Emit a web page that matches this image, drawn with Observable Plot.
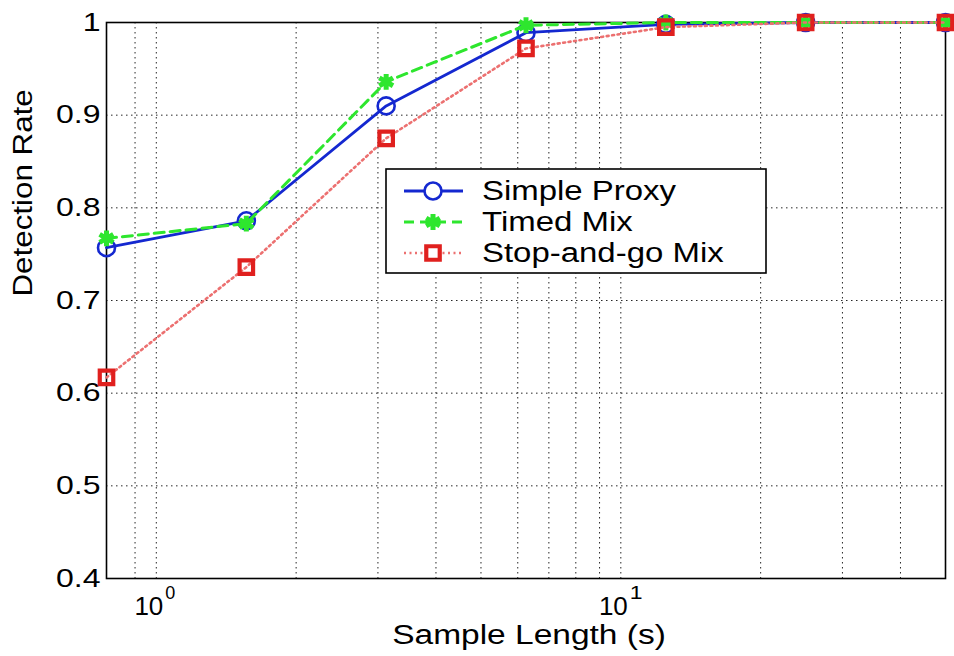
<!DOCTYPE html>
<html>
<head>
<meta charset="utf-8">
<script src="https://cdn.jsdelivr.net/npm/d3@7"></script>
<script src="https://cdn.jsdelivr.net/npm/@observablehq/plot@0.6"></script>
<style>
  html, body { margin: 0; padding: 0; background: #fff; }
  svg { display: block; }
</style>
</head>
<body>
<div id="chart"></div>
<script>
// ---- data ----
const sampleLengths = [0.78125, 1.5625, 3.125, 6.25, 12.5, 25, 50];
const simpleProxy   = [0.757, 0.786, 0.910, 0.989, 0.998, 1.000, 1.000];
const timedMix      = [0.767, 0.783, 0.936, 0.997, 1.000, 1.000, 1.000];
const stopAndGoMix  = [0.617, 0.736, 0.875, 0.972, 0.995, 1.000, 1.000];
const seriesNames   = ["Simple Proxy", "Timed Mix", "Stop-and-go Mix"];
const yTicks        = [0.4, 0.5, 0.6, 0.7, 0.8, 0.9, 1.0];
const xTicks        = [1, 10];
const xTickBase     = ["10", "10"];
const xTickExp      = ["0", "1"];
const xGrid         = [0.9, 1, 2, 3, 4, 5, 6, 7, 8, 9, 10, 20, 30, 40];
const yGrid         = [0.5, 0.6, 0.7, 0.8, 0.9];
const xLabel        = "Sample Length (s)";
const yLabel        = "Detection Rate";

const styles = [
  {color: "#1428d0", dash: null, width: 2.8, symbol: "circle", r: 8.5, sw: 2.6},
  {color: "#2ee62e", dash: "10,6", width: 3, symbol: "asterisk", r: 7.5, sw: 5},
  {color: "#e0201e", lineColor: "#ec7070", dash: "2,3.5", width: 2.6, symbol: "square", r: 7.6, sw: 4.2}
];
const values = [simpleProxy, timedMix, stopAndGoMix];
const table = seriesNames.map((name, i) => sampleLengths.map((x, j) => ({series: name, x, y: values[i][j]})));
const yFmt = d => d === 1 ? "1" : d.toFixed(1);

const marks = [
  Plot.ruleX(xGrid, {x: d => d, stroke: "#000", strokeWidth: 1, strokeDasharray: "1.5,3.5", strokeOpacity: 0.85}),
  Plot.ruleY(yGrid, {y: d => d, stroke: "#000", strokeWidth: 1, strokeDasharray: "1.5,3.5", strokeOpacity: 0.85}),
  Plot.frame({stroke: "#000", strokeWidth: 1.6}),
  Plot.axisY({ticks: yTicks, tickFormat: yFmt, tickSize: 0, tickPadding: 6, fontSize: 25, label: null}),
  Plot.text(xTicks, {x: d => d, text: (d, i) => xTickBase[i], frameAnchor: "bottom", lineAnchor: "bottom", dy: 36, dx: 7, textAnchor: "end", fontSize: 26, fill: "#000"}),
  Plot.text(xTicks, {x: d => d, text: (d, i) => xTickExp[i], frameAnchor: "bottom", lineAnchor: "bottom", dy: 20, dx: 9, textAnchor: "start", fontSize: 18, fill: "#000"}),
  Plot.text([xLabel], {text: d => d, frameAnchor: "bottom", lineAnchor: "bottom", dy: 65, dx: 3, fontSize: 27, fill: "#000"}),
  Plot.text([yLabel], {text: d => d, frameAnchor: "left", rotate: -90, dx: -83, dy: -4, fontSize: 27, fill: "#000"})
];
table.forEach((rows, i) => {
  const s = styles[i];
  marks.push(Plot.line(rows, {x: "x", y: "y", stroke: s.lineColor || s.color, strokeWidth: s.width, strokeDasharray: s.dash}));
  marks.push(Plot.dot(rows, {x: "x", y: "y", symbol: () => s.symbol, r: s.r, stroke: s.color, fill: "none", strokeWidth: s.sw}));
});

const svg = Plot.plot({
  width: 954, height: 656,
  marginLeft: 106, marginRight: 9, marginTop: 22, marginBottom: 78,
  style: {fontFamily: "'Liberation Sans', Arial, sans-serif", background: "#fff", color: "#000", overflow: "visible"},
  x: {type: "log", domain: [sampleLengths[0], sampleLengths[sampleLengths.length - 1]], axis: null},
  y: {domain: [0.4, 1], axis: null},
  symbol: {type: "identity"},
  marks
});
document.getElementById("chart").appendChild(svg);

// ---- legend (inside axes, MATLAB style) ----
const lg = d3.select(svg).append("g").attr("font-family", "'Liberation Sans', Arial, sans-serif");
lg.append("rect").attr("x", 386).attr("y", 169).attr("width", 380).attr("height", 104)
  .attr("fill", "#fff").attr("stroke", "#000").attr("stroke-width", 1.6);
seriesNames.forEach((name, i) => {
  const s = styles[i];
  const cy = 191 + i * 31;
  lg.append("line").attr("x1", 404).attr("x2", 463).attr("y1", cy).attr("y2", cy)
    .attr("stroke", s.lineColor || s.color).attr("stroke-width", s.width)
    .attr("stroke-dasharray", s.dash || null);
  const symType = {circle: d3.symbolCircle, asterisk: d3.symbolAsterisk, square: d3.symbolSquare}[s.symbol];
  lg.append("path").attr("transform", `translate(433,${cy})`)
    .attr("d", d3.symbol(symType, Math.PI * s.r * s.r)())
    .attr("stroke", s.color).attr("stroke-width", s.sw)
    .attr("fill", s.symbol === "asterisk" ? "none" : "#fff");
  lg.append("text").attr("x", 482).attr("y", cy + 9)
    .attr("text-anchor", "start").attr("font-size", 27).attr("fill", "#000").text(name);
});

// stretch texts horizontally to match the wide glyphs of the reference raster
const factors = new Map();
yTicks.forEach(v => factors.set(yFmt(v), 1.28));
factors.set(xLabel, 1.24);
factors.set(yLabel, 1.16);
seriesNames.forEach(n => factors.set(n, 1.22));
svg.querySelectorAll("text").forEach(t => {
  const f = factors.get(t.textContent);
  if (!f) return;
  const L = t.getComputedTextLength();
  if (L > 0) {
    t.setAttribute("textLength", (L * f).toFixed(1));
    t.setAttribute("lengthAdjust", "spacingAndGlyphs");
  }
});
</script>
</body>
</html>
